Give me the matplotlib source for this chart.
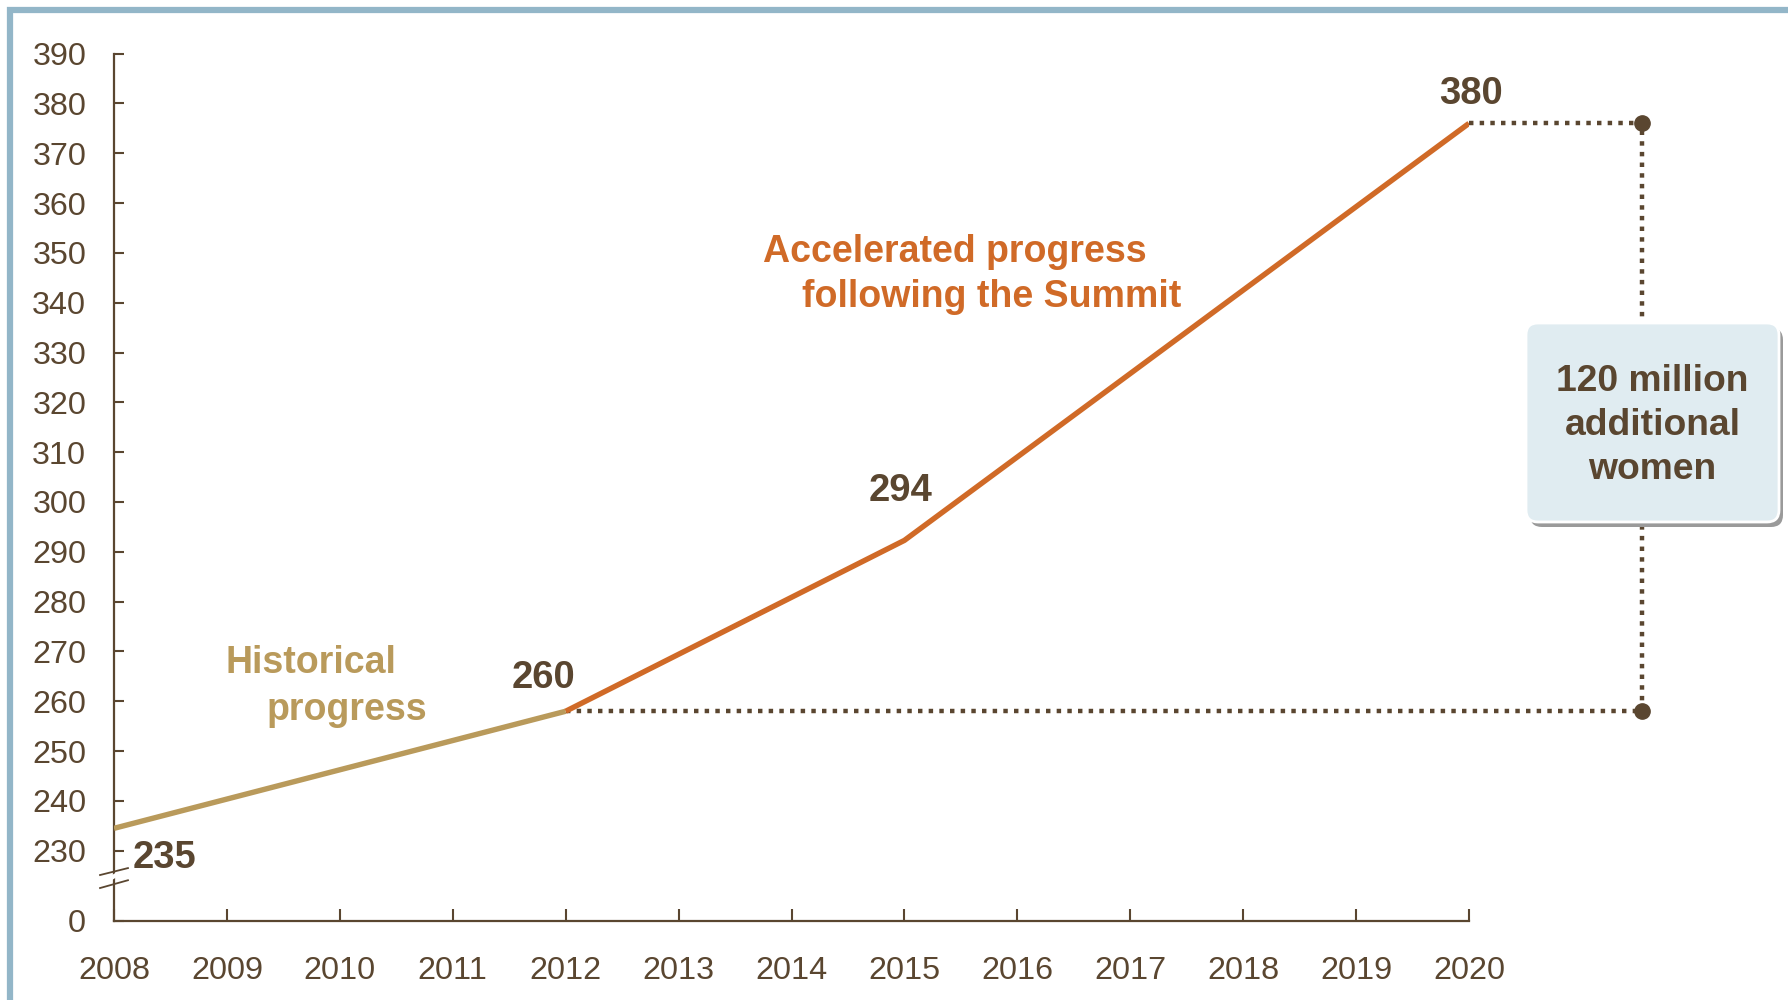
import matplotlib
matplotlib.use("Agg")
import matplotlib.pyplot as plt
from matplotlib.patches import FancyBboxPatch, Rectangle
from matplotlib.lines import Line2D
from matplotlib.transforms import IdentityTransform

plt.rcParams['font.family'] = ['Liberation Sans', 'DejaVu Sans']

# ---- data ----
hist_years = [2008, 2012]
hist_values = [234.5, 258]
accel_years = [2012, 2015, 2020]
accel_values = [258, 292.3, 376]
label_years = [2008, 2012, 2015, 2020]
label_texts = ["235", "260", "294", "380"]
bracket_x = 2021.53
gap_text = "120 million\nadditional\nwomen"
year_ticks = list(range(2008, 2021))
ytick_values = list(range(230, 391, 10))
zero_pos = 215.9   # where "0" sits on the broken axis

BROWN = "#5a4630"
TAN = "#b99a5b"
ORANGE = "#d06a27"

fig = plt.figure(figsize=(17.88, 10), dpi=100)
ax = fig.add_axes([114/1788, 79/1000, 1355/1788, 867.4/1000])

ax.plot(hist_years, hist_values, color=TAN, lw=3.9, solid_capstyle='butt', zorder=3)
ax.plot(accel_years, accel_values, color=ORANGE, lw=3.9, solid_capstyle='butt', zorder=3)

# dotted bracket
dot_kw = dict(color=BROWN, lw=3.2, linestyle=(0, (1, 1.4)), dash_capstyle='butt', clip_on=False, zorder=2)
ax.plot([accel_years[0], bracket_x], [accel_values[0], accel_values[0]], **dot_kw)
ax.plot([accel_years[-1], bracket_x], [accel_values[-1], accel_values[-1]], **dot_kw)
ax.plot([bracket_x, bracket_x], [accel_values[0], accel_values[-1]], **dot_kw)
ax.plot([bracket_x, bracket_x], [accel_values[0], accel_values[-1]], 'o', color=BROWN,
        ms=11, clip_on=False, zorder=4)

ax.set_xlim(2008, 2020)
ax.set_ylim(zero_pos, 390)

ax.set_xticks(year_ticks)
ax.set_xticklabels([str(y) for y in year_ticks])
ax.set_yticks([zero_pos] + ytick_values)
ax.set_yticklabels(["0"] + [str(v) for v in ytick_values])
ax.tick_params(axis='x', direction='in', length=8.5, width=1.5, color=BROWN,
               labelsize=23.3, labelcolor=BROWN, pad=25)
ax.tick_params(axis='y', direction='in', length=7, width=1.5, color=BROWN,
               labelsize=23.3, labelcolor=BROWN, pad=20)
for s in ['top', 'right']:
    ax.spines[s].set_visible(False)
for s in ['left', 'bottom']:
    ax.spines[s].set_color(BROWN)
    ax.spines[s].set_linewidth(1.6)

# axis break marks
ax.add_line(Line2D([-0.004, 0.004], [0.0475, 0.0555], color='white', lw=3,
                   transform=ax.transAxes, clip_on=False, zorder=5))
ax.add_line(Line2D([-0.0103, 0.0103], [0.053, 0.061], color=BROWN, lw=1.3,
                   transform=ax.transAxes, clip_on=False, zorder=6))
ax.add_line(Line2D([-0.0103, 0.0103], [0.038, 0.047], color=BROWN, lw=1.3,
                   transform=ax.transAxes, clip_on=False, zorder=6))

# value labels
label_pos = [(2008.45, 228.6), (2011.80, 264.6), (2014.97, 302.2), (2020.02, 381.8)]
for (x, y), t in zip(label_pos, label_texts):
    ax.text(x, y, t, color=BROWN, fontsize=27.5, fontweight='bold', ha='center', va='center',
            clip_on=False)

ax.text(2009.74, 267.6, "Historical", color=TAN, fontsize=27, fontweight='bold',
        ha='center', va='center')
ax.text(2010.06, 258.3, "progress", color=TAN, fontsize=27, fontweight='bold',
        ha='center', va='center')
ax.text(2015.45, 350.2, "Accelerated progress", color=ORANGE, fontsize=27, fontweight='bold',
        ha='center', va='center')
ax.text(2015.77, 341.2, "following the Summit", color=ORANGE, fontsize=27, fontweight='bold',
        ha='center', va='center')

# box (pixel coordinates)
bx, by, bw, bh = 1526, 478, 253, 199
shadow = FancyBboxPatch((bx + 4, by - 5), bw, bh, boxstyle="round,pad=0,rounding_size=12",
                        transform=IdentityTransform(), facecolor="#9a9a9a", edgecolor='none',
                        zorder=7)
box = FancyBboxPatch((bx, by), bw, bh, boxstyle="round,pad=0,rounding_size=12",
                     transform=IdentityTransform(), facecolor="#e0ecf1", edgecolor='white',
                     lw=2, zorder=8)
fig.patches.extend([shadow, box])
fig.text((bx + bw / 2) / 1788, (by + bh / 2 - 3) / 1000, gap_text, color=BROWN, fontsize=26.8,
         fontweight='bold', ha='center', va='center', linespacing=1.35, zorder=9)

# frame
frame = Rectangle((9.5, -50), 3000, 1000 - 9.5 + 50, transform=IdentityTransform(),
                  facecolor='none', edgecolor="#93b6c8", lw=4.5, zorder=10)
fig.patches.append(frame)

fig.savefig("out.png", dpi=100)
